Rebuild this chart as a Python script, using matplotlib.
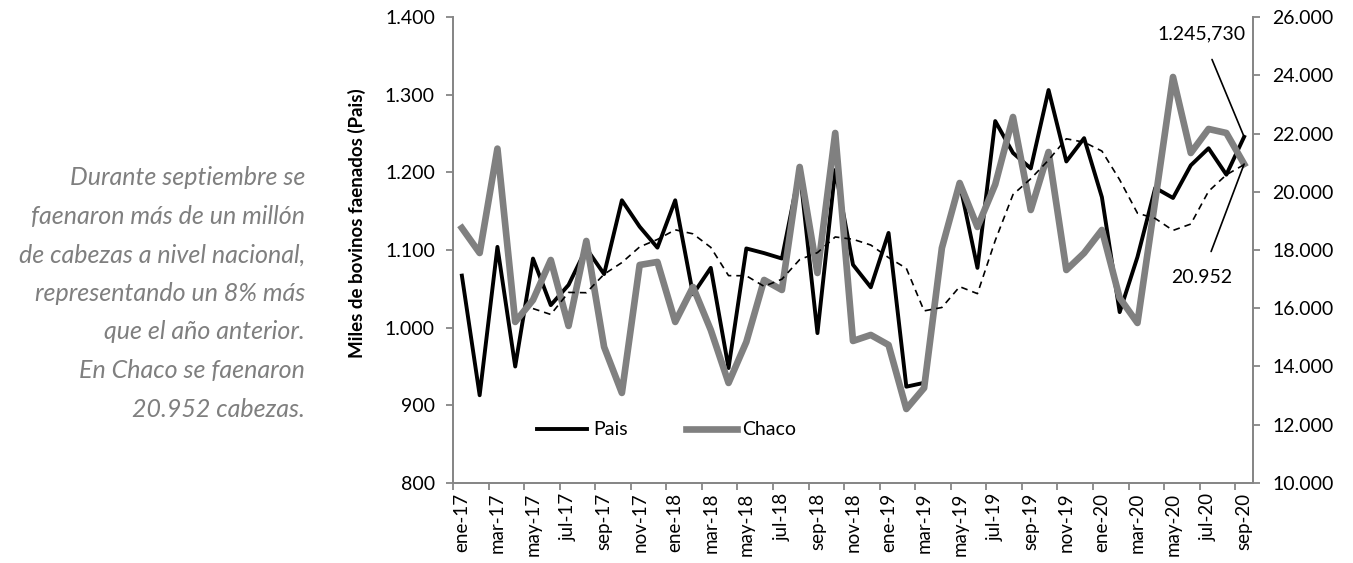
import matplotlib
matplotlib.use('Agg')
import matplotlib.pyplot as plt
from matplotlib.ticker import FuncFormatter, FixedLocator
import pandas as pd

meses = ['ene', 'feb', 'mar', 'abr', 'may', 'jun', 'jul', 'ago', 'sep', 'oct', 'nov', 'dic']
fechas = [f'{m}-{a}' for a in ['17', '18', '19', '20'] for m in meses][:45]

pais = [1067, 913, 1104, 950, 1089, 1029, 1055, 1102, 1069, 1164, 1130, 1103,
        1164, 1043, 1077, 948, 1102, 1096, 1089, 1203, 993, 1203, 1081, 1052,
        1122, 924, 929, 1103, 1186, 1077, 1266, 1225, 1205, 1306, 1214, 1244,
        1168, 1020, 1091, 1180, 1167, 1209, 1231, 1197, 1245.73]

chaco = [18756, 17897, 21480, 15530, 16284, 17657, 15392, 18310, 14671, 13092, 17486, 17589,
         15530, 16731, 15255, 13435, 14843, 16971, 16628, 20850, 17211, 22018, 14877, 15083,
         14740, 12542, 13263, 18069, 20301, 18791, 20250, 22567, 19374, 21365, 17314, 17897,
         18688, 16353, 15495, 19700, 23940, 21331, 22155, 22018, 20952]

# media movil de 5 periodos (linea de tendencia de Pais)
tendencia = pd.Series(pais).rolling(5).mean()

gris_eje = '#868686'
plt.rcParams['font.family'] = ['Lato', 'DejaVu Sans']

fig = plt.figure(figsize=(13.53, 5.63), dpi=100)
ax = fig.add_axes([0.3348, 0.1421, 0.5913, 0.8277])
ax2 = ax.twinx()

x = list(range(len(fechas)))
l1, = ax.plot(x, pais, color='black', lw=2.8, label='Pais', zorder=2)
l2, = ax2.plot(x, chaco, color='#808080', lw=4.8, label='Chaco', zorder=2)

# la tendencia va encima de todo, con la escala del eje principal
ax_t = ax.twinx()
ax_t.set_ylim(800, 1400)
ax_t.axis('off')
ax_t.plot(x, tendencia, color='black', lw=1.2, ls=(0, (4, 3)))

ax.set_xlim(-0.5, 44.5)
ax.set_ylim(800, 1400)
ax2.set_ylim(10000, 26000)
ax.set_yticks(range(800, 1401, 100))
ax2.set_yticks(range(10000, 26001, 2000))

miles = FuncFormatter(lambda v, p: f'{int(v):,}'.replace(',', '.'))
ax.yaxis.set_major_formatter(miles)
ax2.yaxis.set_major_formatter(miles)

ax.set_xticks(x[::2])
ax.set_xticklabels(fechas[::2], rotation=90, fontsize=13.5)
ax.xaxis.set_minor_locator(FixedLocator([i - 0.5 for i in range(0, 45, 2)]))
ax.tick_params(axis='x', which='major', length=0, pad=7)
ax.tick_params(axis='x', which='minor', length=5, color=gris_eje, width=1.3)
ax.tick_params(axis='y', length=5, color=gris_eje, width=1.3, labelsize=14, pad=8)
ax2.tick_params(axis='y', length=5, color=gris_eje, width=1.3, labelsize=14, pad=9)

for a in (ax, ax2):
    a.spines['top'].set_visible(False)
    for s in ('left', 'right', 'bottom'):
        a.spines[s].set_color(gris_eje)
        a.spines[s].set_linewidth(1.3)

ax.set_ylabel('Miles de bovinos faenados (Pais)', fontsize=13.5, fontweight='bold')
ax.yaxis.set_label_coords(-0.109, 0.558)

ax.legend(handles=[l1, l2], loc='center', bbox_to_anchor=(0.267, 0.114), ncol=2,
          frameon=False, fontsize=14, handlelength=2.6, columnspacing=3.0, handletextpad=0.3)

ax.annotate('1.245,730', xy=(44, pais[44]), xytext=(41.6, 1378), fontsize=14,
            ha='center', va='center',
            arrowprops=dict(arrowstyle='-', color='black', lw=1.2, shrinkA=11, shrinkB=0))
ax2.annotate('20.952', xy=(44, chaco[44]), xytext=(41.6, 17070), fontsize=14,
             ha='center', va='center',
             arrowprops=dict(arrowstyle='-', color='black', lw=1.2, shrinkA=11, shrinkB=0))

texto = ('Durante septiembre se\nfaenaron más de un millón\nde cabezas a nivel nacional,\n'
         'representando un 8% más\nque el año anterior.\nEn Chaco se faenaron\n20.952 cabezas.')
fig.text(0.2254, 0.479, texto, ha='right', va='center', fontsize=18, style='italic',
         color='#7f7f7f', linespacing=1.82)

fig.savefig('out.png', dpi=100)
